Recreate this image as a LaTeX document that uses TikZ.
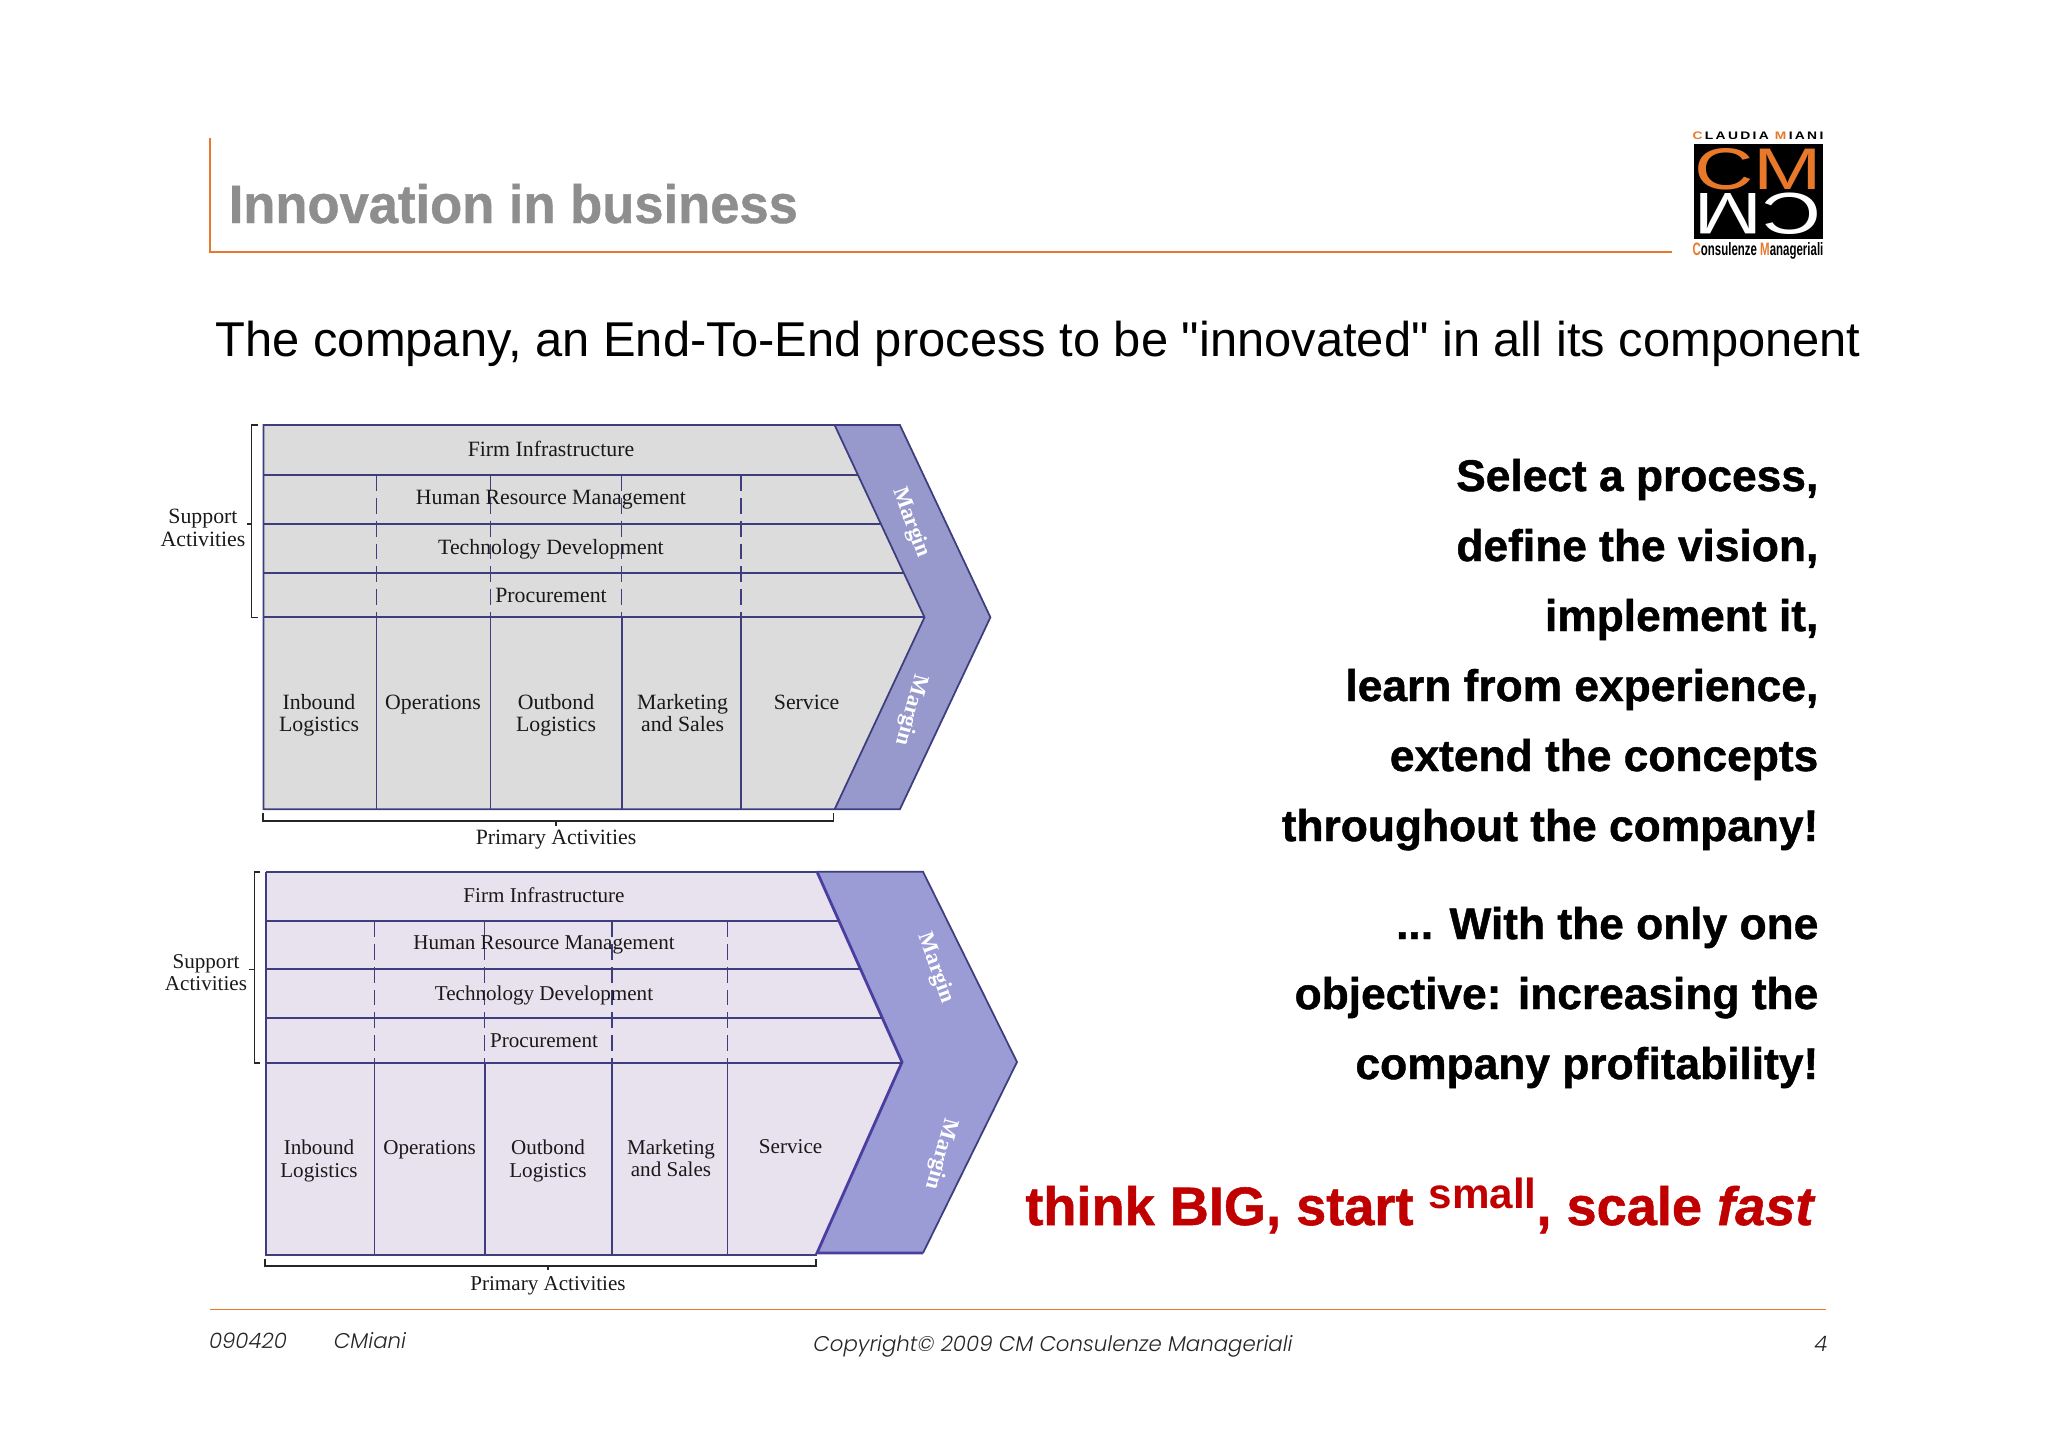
\documentclass[tikz,border=0pt]{standalone}
\usepackage{fontspec}
\setmainfont{Liberation Sans}
\newfontfamily\bodyfont{Liberation Sans}
\newfontfamily\panelfont{Liberation Serif}
\newfontfamily\footfont[UprightFont=* Light,ItalicFont=* Light Italic]{Poppins}
\newfontfamily\titlefont[UprightFont=* Bold,FakeStretch=0.97,FakeBold=0.8]{Liberation Sans}
\newfontfamily\heavyfont[UprightFont=* Bold,ItalicFont=* Bold Italic,FakeBold=1]{Liberation Sans}
\definecolor{cmorange}{HTML}{E8792B}
\definecolor{titlegrey}{HTML}{8E8E8E}
\definecolor{cmred}{HTML}{C00000}
\definecolor{panelgreyA}{HTML}{DCDCDC}
\definecolor{panelgreyB}{HTML}{E8E2EE}
\definecolor{chevronA}{HTML}{9798CC}
\definecolor{chevronB}{HTML}{9B9CD6}
\definecolor{panelline}{HTML}{3E3E7E}
\definecolor{panellineB}{HTML}{4A3FA0}
\tikzset{
  rule/.style={draw=cmorange, line width=0.5pt},
  solidline/.style={draw=panelline, line width=0.5pt},
  dashline/.style={draw=panelline, line width=0.4pt, dash pattern=on 4.5pt off 2pt},
  brace/.style={draw=black!85, line width=0.45pt},
  paneltext/.style={font=\panelfont\fontsize{6.2}{6.35}\selectfont, align=center, text=black!90, inner sep=0pt},
  paneltextB/.style={font=\panelfont\fontsize{6}{6.35}\selectfont, align=center, text=black!90, inner sep=0pt},
  margintext/.style={font=\panelfont\bfseries\fontsize{6.4}{8}\selectfont, text=white, inner sep=0pt},
  pitch/.style={font=\heavyfont\fontsize{12.6}{14}\selectfont, anchor=base east, inner sep=0pt},
  foottext/.style={font=\footfont\itshape\fontsize{6.06}{7}\selectfont, text=black!85, anchor=base, inner sep=0pt}
}
\begin{document}
\begin{tikzpicture}[x=0.01cm, y=-0.01cm]
      \useasboundingbox (0, 0) rectangle (2048, 1447);

      \draw[rule] (210, 138) -- (210, 252) -- (1672, 252);
      \node[anchor=base west, inner sep=0pt, text=titlegrey, font=\titlefont\fontsize{15.4}{16}\selectfont] (title) at (228, 223) {Innovation in business};
      \node[anchor=base west, inner sep=0pt, font=\bodyfont\fontsize{13.9}{15}\selectfont] (subtitle) at (215, 356) {The company, an End-To-End process to be "innovated" in all its component};

      \fill[black] (1694, 144) rectangle (1823, 239);
      \node[anchor=center, inner sep=0pt, text=cmorange, xscale=1.4, font=\fontsize{16.7}{17}\selectfont] (logoup) at (1758, 169) {CM};
      \node[anchor=center, inner sep=0pt, text=white, xscale=1.4, rotate=180, font=\fontsize{16.7}{17}\selectfont] (logodown) at (1758, 214) {CM};
      \node[anchor=center, inner sep=0pt, xscale=1.27, font=\bfseries\fontsize{3.1}{4}\selectfont] (logotop) at (1758, 136) {\textcolor{cmorange}{C}\,L\,A\,U\,D\,I\,A\,\ \textcolor{cmorange}{M}\,I\,A\,N\,I};
      \node[anchor=center, inner sep=0pt, xscale=0.64, font=\bfseries\fontsize{5.1}{6}\selectfont] (logobottom) at (1758, 251) {\textcolor{cmorange}{C}onsulenze \textcolor{cmorange}{M}anageriali};

      \fill[panelgreyA] (263.5, 425) -- (834.6, 425) -- (924.5, 617.3) -- (834.6, 809.3) -- (263.5, 809.3) -- cycle;
      \fill[chevronA] (834.6, 425) -- (899.9, 425) -- (990.4, 617.3) -- (899.9, 809.3) -- (834.6, 809.3) -- (924.5, 617.3) -- cycle;
      \draw[solidline] (263.5, 425) -- (899.9, 425) -- (990.4, 617.3) -- (899.9, 809.3) -- (263.5, 809.3) -- cycle;
      \draw[solidline] (834.6, 425) -- (924.5, 617.3) -- (834.6, 809.3);
      \draw[solidline] (263.5, 475) -- (858, 475);
      \draw[solidline] (263.5, 524) -- (881, 524);
      \draw[solidline] (263.5, 572.7) -- (903.6, 572.7);
      \draw[solidline] (263.5, 617.3) -- (924.5, 617.3);
      \draw[dashline] (376.5, 475) -- (376.5, 617.3);
      \draw[dashline] (490.6, 475) -- (490.6, 617.3);
      \draw[dashline] (621.7, 475) -- (621.7, 617.3);
      \draw[dashline] (740.8, 475) -- (740.8, 617.3);
      \draw[solidline] (376.5, 617.3) -- (376.5, 809.3);
      \draw[solidline] (490.6, 617.3) -- (490.6, 809.3);
      \draw[solidline] (621.7, 617.3) -- (621.7, 809.3);
      \draw[solidline] (740.8, 617.3) -- (740.8, 809.3);
      \draw[brace] (258, 425) -- (251.5, 425) -- (251.5, 617.3) -- (258, 617.3);
      \draw[brace] (251.5, 524) -- (246.5, 524);
      \draw[brace] (263, 813.3) -- (263, 820.7) -- (833.5, 820.7) -- (833.5, 813.3);
      \draw[brace] (556, 820.7) -- (556, 826);

      \node[paneltext] (firmA) at (551, 449) {Firm Infrastructure};
      \node[paneltext] (humanA) at (551, 499.5) {Human Resource Management};
      \node[paneltext] (techA) at (551, 549.5) {Technology Development};
      \node[paneltext] (procA) at (551, 595.5) {Procurement};
      \node[paneltext] (inboundA) at (319, 715.5) {Inbound\\Logistics};
      \node[paneltext] (opsA) at (433, 704.5) {Operations};
      \node[paneltext] (outboundA) at (556, 715.5) {Outbond\\Logistics};
      \node[paneltext] (marketA) at (682.6, 713) {Marketing\\and Sales};
      \node[paneltext] (serviceA) at (806.6, 702) {Service};
      \node[paneltext] (supportA) at (203, 528) {Support\\Activities};
      \node[paneltext] (primaryA) at (556, 840) {Primary Activities};
      \node[margintext, rotate=-70] (marginA) at (911, 522.5) {Margin};
      \node[margintext, rotate=-105] (marginAb) at (911, 710) {Margin};

      \fill[panelgreyB] (266, 871.7) -- (817, 871.7) -- (902, 1062) -- (817, 1255) -- (266, 1255) -- cycle;
      \fill[chevronB] (817, 871.7) -- (923, 871.7) -- (1017, 1062) -- (923, 1253) -- (817, 1253) -- (902, 1062) -- cycle;
      \draw[solidline] (266, 871.7) -- (817, 871.7);
      \draw[solidline] (817, 871.7) -- (923, 871.7) -- (1017, 1062) -- (923, 1253);
      \draw[solidline] (266, 871.7) -- (266, 1255) -- (817, 1255);
      \draw[draw=panellineB, line width=0.8pt] (923, 1253) -- (817, 1253) -- (902, 1062) -- (817, 871.7);
      \draw[solidline] (266, 921) -- (839, 921);
      \draw[solidline] (266, 969.3) -- (860.4, 969.3);
      \draw[solidline] (266, 1018.3) -- (882.2, 1018.3);
      \draw[solidline] (266, 1062.7) -- (902, 1062.7);
      \draw[dashline] (374.5, 921) -- (374.5, 1062.7);
      \draw[dashline] (484.7, 921) -- (484.7, 1062.7);
      \draw[dashline] (612, 921) -- (612, 1062.7);
      \draw[dashline] (727.5, 921) -- (727.5, 1062.7);
      \draw[solidline] (374.5, 1062.7) -- (374.5, 1255);
      \draw[solidline] (484.7, 1062.7) -- (484.7, 1255);
      \draw[solidline] (612, 1062.7) -- (612, 1255);
      \draw[solidline] (727.5, 1062.7) -- (727.5, 1255);
      \draw[brace] (260, 871.7) -- (254.5, 871.7) -- (254.5, 1062.7) -- (260, 1062.7);
      \draw[brace] (254.5, 969.3) -- (248.7, 969.3);
      \draw[brace] (265, 1259.3) -- (265, 1266) -- (816, 1266) -- (816, 1259.3);
      \draw[brace] (548, 1266) -- (548, 1270);

      \node[paneltextB] (firmB) at (544, 895) {Firm Infrastructure};
      \node[paneltextB] (humanB) at (544, 945) {Human Resource Management};
      \node[paneltextB] (techB) at (544, 995) {Technology Development};
      \node[paneltextB] (procB) at (544, 1041) {Procurement};
      \node[paneltextB] (inboundB) at (319, 1161) {Inbound\\Logistics};
      \node[paneltextB] (opsB) at (429.6, 1150) {Operations};
      \node[paneltextB] (outboundB) at (548, 1161) {Outbond\\Logistics};
      \node[paneltextB] (marketB) at (671, 1158) {Marketing\\and Sales};
      \node[paneltextB] (serviceB) at (790.6, 1147) {Service};
      \node[paneltextB] (supportB) at (206, 972.8) {Support\\Activities};
      \node[paneltextB] (primaryB) at (548, 1285.5) {Primary Activities};
      \node[margintext, rotate=-70] (marginB) at (935.5, 968) {Margin};
      \node[margintext, rotate=-105] (marginBb) at (941, 1154) {Margin};

      \node[pitch] (pitchA) at (1819, 491) {Select a process,};
      \node[pitch] (pitchB) at (1819, 561) {define the vision,};
      \node[pitch] (pitchC) at (1819, 631) {implement it,};
      \node[pitch] (pitchD) at (1819, 701) {learn from experience,};
      \node[pitch] (pitchE) at (1819, 771) {extend the concepts};
      \node[pitch] (pitchF) at (1819, 841) {throughout the company!};
      \node[pitch] (pitchG) at (1819, 939) {... With the only one};
      \node[pitch] (pitchH) at (1819, 1009) {objective: increasing the};
      \node[pitch] (pitchI) at (1819, 1079) {company profitability!};
      \node[pitch, text=cmred, font=\heavyfont\fontsize{15.4}{17}\selectfont] (motto) at (1816, 1225) {think BIG, start \raisebox{0.3em}{\bodyfont\bfseries\fontsize{12}{14}\selectfont small}, scale \textit{fast}};

      \draw[rule] (210, 1309.5) -- (1826, 1309.5);
      \node[foottext] (date) at (248, 1348) {090420};
      \node[foottext] (who) at (370, 1348) {CMiani};
      \node[foottext] (copy) at (1053, 1351) {Copyright© 2009 CM Consulenze Manageriali};
      \node[foottext] (page) at (1821, 1351) {4};
    \end{tikzpicture}
\end{document}
